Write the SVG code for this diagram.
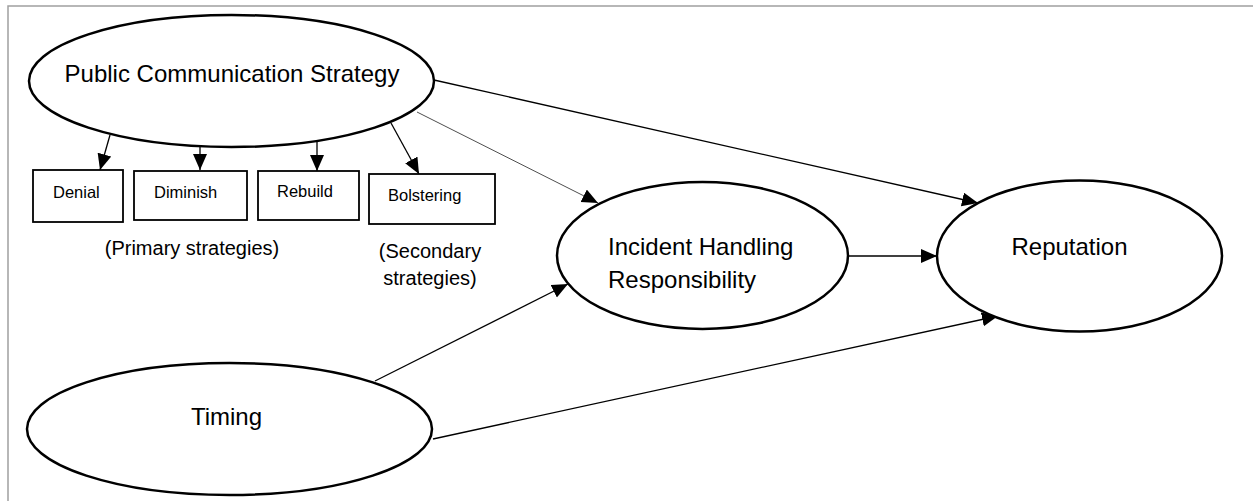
<svg xmlns="http://www.w3.org/2000/svg" width="1253" height="501" viewBox="0 0 1253 501">
<style>
.node ellipse{fill:#fff;stroke:#000;stroke-width:2.5}
.node rect{fill:#fff;stroke:#000;stroke-width:1.8}
text{font-family:"Liberation Sans",Arial,sans-serif;fill:#000}
.big{font-size:24px}
.small{font-size:16.5px}
.note{font-size:20px}
.conn line{stroke:#000;stroke-width:1.3}
.conn line.thin{stroke-width:0.7}
</style>
<defs>
<marker id="arr" markerUnits="userSpaceOnUse" markerWidth="18" markerHeight="15" refX="16" refY="7" orient="auto">
<path d="M0,0 L16,7 L0,14 z" fill="#000"/>
</marker>
</defs>
<rect x="0" y="0" width="1253" height="501" fill="#fff"/>
<path d="M8,501 L8,6 L1253,6" fill="none" stroke="#a0a0a0" stroke-width="1.5"/>

<g class="conn">
<line x1="110" y1="135" x2="100" y2="170" marker-end="url(#arr)"/>
<line x1="200" y1="147" x2="200" y2="170" marker-end="url(#arr)"/>
<line x1="317" y1="142" x2="317" y2="171" marker-end="url(#arr)"/>
<line x1="391" y1="123" x2="419" y2="174" marker-end="url(#arr)"/>
<line class="thin" x1="417" y1="112" x2="598" y2="203" marker-end="url(#arr)"/>
<line x1="434" y1="80" x2="978" y2="203" marker-end="url(#arr)"/>
<line x1="848" y1="256" x2="937" y2="256" marker-end="url(#arr)"/>
<line x1="375" y1="381" x2="568" y2="284" marker-end="url(#arr)"/>
<line x1="433" y1="439" x2="998" y2="316" marker-end="url(#arr)"/>
</g>

<g id="pcs" class="node">
<ellipse cx="231.5" cy="81" rx="202.5" ry="66"/>
<text class="big" x="232" y="82" text-anchor="middle">Public Communication Strategy</text>
</g>
<g id="denial" class="node">
<rect x="33" y="170" width="90" height="52"/>
<text class="small" x="53" y="198">Denial</text>
</g>
<g id="diminish" class="node">
<rect x="134" y="171" width="113" height="49"/>
<text class="small" x="154" y="198">Diminish</text>
</g>
<g id="rebuild" class="node">
<rect x="258" y="171" width="101" height="49"/>
<text class="small" x="277" y="197">Rebuild</text>
</g>
<g id="bolstering" class="node">
<rect x="369" y="174" width="126" height="50"/>
<text class="small" x="388" y="201">Bolstering</text>
</g>
<g id="primary-label">
<text class="note" x="192" y="255" text-anchor="middle" font-size="21">(Primary strategies)</text>
</g>
<g id="secondary-label">
<text class="note" x="430" y="258" text-anchor="middle">(Secondary</text>
<text class="note" x="430" y="285" text-anchor="middle">strategies)</text>
</g>
<g id="incident" class="node">
<ellipse cx="702.5" cy="255.5" rx="145.5" ry="73.5"/>
<text class="big" x="608" y="255">Incident Handling</text>
<text class="big" x="608" y="288">Responsibility</text>
</g>
<g id="reputation" class="node">
<ellipse cx="1079.5" cy="256" rx="142.5" ry="75.5"/>
<text class="big" x="1069.5" y="255" text-anchor="middle">Reputation</text>
</g>
<g id="timing" class="node">
<ellipse cx="229.5" cy="429" rx="202.5" ry="66"/>
<text class="big" x="226.5" y="425" text-anchor="middle">Timing</text>
</g>
</svg>
